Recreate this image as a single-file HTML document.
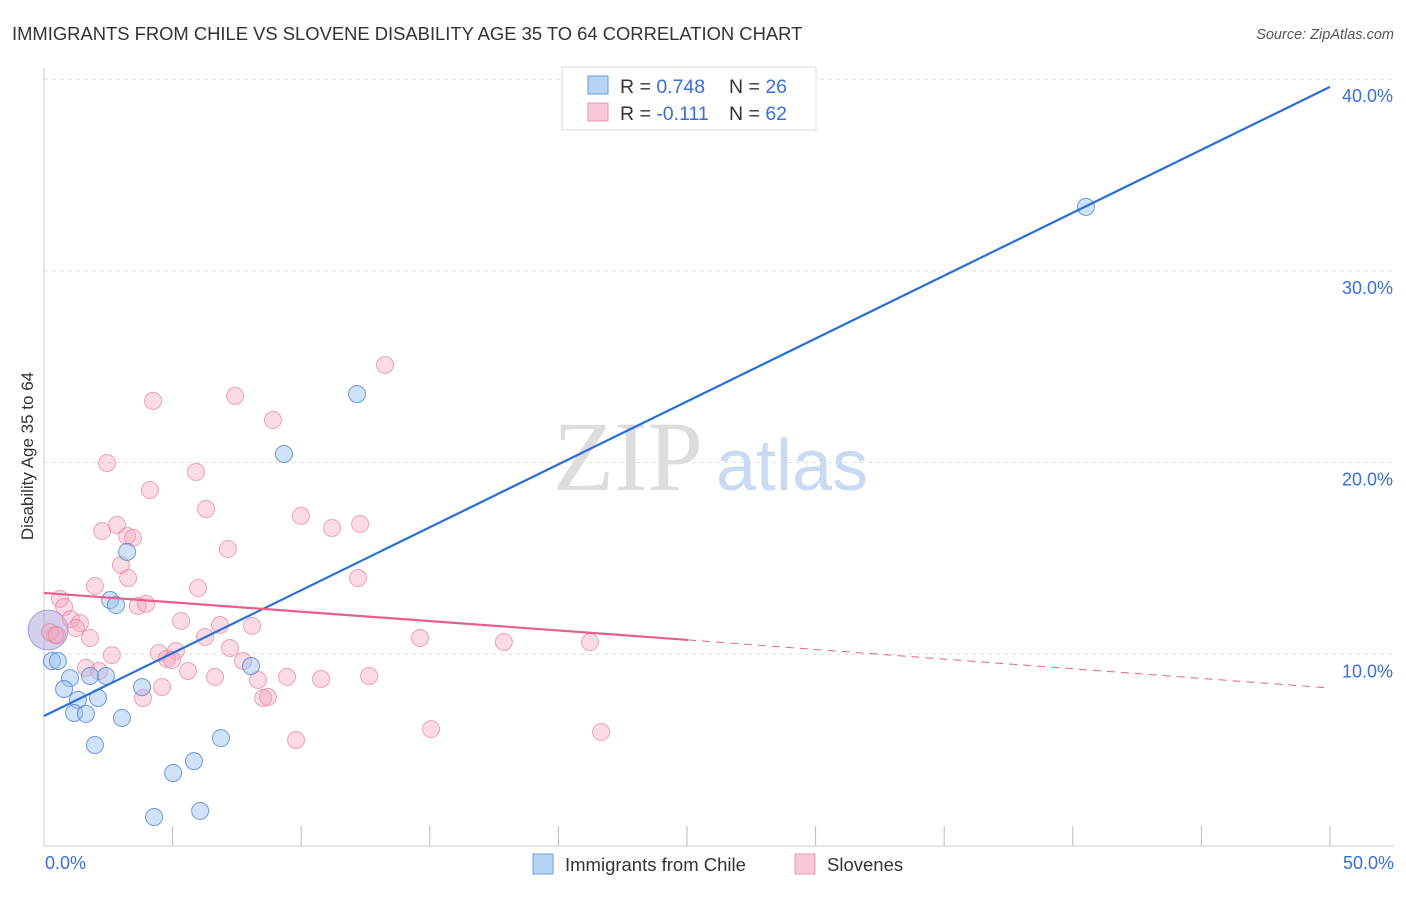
<!DOCTYPE html>
<html><head><meta charset="utf-8"><style>
body{margin:0;background:#fff;font-family:"Liberation Sans",sans-serif}
</style></head><body>
<svg width="1406" height="892" font-family="Liberation Sans, sans-serif" xmlns="http://www.w3.org/2000/svg">
<text x="12" y="40" font-size="18.4" fill="#333">IMMIGRANTS FROM CHILE VS SLOVENE DISABILITY AGE 35 TO 64 CORRELATION CHART</text>
<text x="1394" y="39" font-size="14.5" fill="#555" text-anchor="end" font-style="italic">Source: ZipAtlas.com</text>
<text x="553" y="490" font-size="100" fill="#ddd" style="font-family:'Liberation Serif',serif">ZIP</text>
<text x="716" y="490" font-size="72" fill="#c9daf2">atlas</text>
<g id="grid"></g>
<line x1="44" y1="68" x2="44" y2="846" stroke="#ccc"/>
<line x1="44" y1="846" x2="1394" y2="846" stroke="#ccc"/>
<text transform="translate(33,456) rotate(-90)" font-size="17" fill="#333" text-anchor="middle">Disability Age 35 to 64</text>
<text x="45" y="869" font-size="18" fill="#3a6fd8">0.0%</text>
<text x="1394" y="869" font-size="18" fill="#3a6fd8" text-anchor="end">50.0%</text>
<g id="pts"></g>
<g id="lines"></g>
<g>
<rect x="562" y="67" width="254" height="63" fill="#fff" stroke="#ddd"/>
<rect x="588" y="76" width="20" height="18" fill="#b8d4f5" stroke="#6a9ee0"/>
<rect x="588" y="103" width="20" height="18" fill="#f9c8d6" stroke="#e99ab2"/>
<text x="620" y="93" font-size="19.5" fill="#333">R = <tspan fill="#3a6fd8">0.748</tspan></text>
<text x="729" y="93" font-size="19.5" fill="#333">N = <tspan fill="#3a6fd8">26</tspan></text>
<text x="620" y="120" font-size="19.5" fill="#333">R = <tspan fill="#3a6fd8">-0.111</tspan></text>
<text x="729" y="120" font-size="19.5" fill="#333">N = <tspan fill="#3a6fd8">62</tspan></text>
</g>
<g>
<rect x="533" y="854" width="20" height="20" fill="#b8d4f5" stroke="#6a9ee0"/>
<text x="565" y="871" font-size="18.5" fill="#333">Immigrants from Chile</text>
<rect x="795" y="854" width="20" height="20" fill="#f9c8d6" stroke="#e99ab2"/>
<text x="827" y="871" font-size="18.5" fill="#333">Slovenes</text>
</g>
</svg>
<script>
const yTicks=[10,20,30,40];
const xTicks=[0,5,10,15,20,25,30,35,40,45,50];
const blueX=[40.51,12.17,9.33,3.23,2.57,2.80,0.31,0.54,1.01,0.78,1.79,2.41,1.32,2.10,1.17,1.63,3.03,3.81,8.05,6.88,5.83,5.02,1.98,6.07,4.28];
const blueY=[33.34,23.58,20.45,15.34,12.83,12.57,9.65,9.65,8.76,8.19,8.87,8.87,7.62,7.72,6.94,6.89,6.68,8.29,9.39,5.63,4.43,3.81,5.27,1.83,1.51];
const pinkX=[13.26,4.24,7.43,8.90,2.45,5.91,4.12,6.30,9.99,11.20,12.29,2.26,2.84,3.23,3.46,7.15,2.99,3.27,1.98,5.99,12.21,0.62,0.78,3.65,3.97,5.33,6.84,8.09,1.05,1.40,1.24,1.79,0.43,0.23,6.26,7.23,14.62,17.88,21.23,2.64,4.47,5.13,4.78,4.98,7.74,1.63,2.14,5.60,6.65,8.32,9.45,10.77,12.64,4.59,3.85,8.52,8.71,9.80,15.05,21.66,0.5];
const pinkY=[25.09,23.22,23.48,22.22,19.98,19.51,18.57,17.58,17.22,16.59,16.80,16.43,16.75,16.17,16.07,15.49,14.66,13.98,13.56,13.46,13.98,12.89,12.47,12.52,12.63,11.74,11.53,11.48,11.84,11.63,11.37,10.85,11.01,11.16,10.90,10.33,10.85,10.64,10.64,9.96,10.07,10.17,9.76,9.70,9.65,9.29,9.13,9.13,8.82,8.66,8.82,8.71,8.87,8.29,7.72,7.72,7.77,5.53,6.10,5.95,11.0];
const bigBlue=[0.16,11.27];
const blueTrend=[[0,6.78],[50,39.6]];
const pinkTrend=[[0,13.2],[25.04,10.75],[50,8.24]];
const X=v=>44+v/50*1286, Y=v=>846-v*19.17;
const NS="http://www.w3.org/2000/svg";
function mk(tag,attrs,parent){const e=document.createElementNS(NS,tag);for(const k in attrs)e.setAttribute(k,attrs[k]);document.getElementById(parent).appendChild(e);return e;}
yTicks.forEach(t=>{
 const l=mk('line',{x1:44,x2:1394,y1:Y(t),y2:Y(t),stroke:'#ddd','stroke-dasharray':'4,4'},'grid');
 
 
 const tx=mk('text',{x:1393,y:Y(t)+23,'font-size':18,fill:'#3a6fd8','text-anchor':'end'},'grid');tx.textContent=t.toFixed(1)+'%';
 
 
});
xTicks.forEach(t=>{
 const l=mk('line',{x1:X(t),x2:X(t),y1:826,y2:846,stroke:'#bbb'},'grid');
 
 
});
const bb=mk('circle',{cx:X(bigBlue[0]),cy:Y(bigBlue[1]),r:20,fill:'rgba(160,150,210,0.45)',stroke:'rgba(110,120,200,0.6)'},'pts');


pinkX.forEach((x,i)=>{const c=mk('circle',{cx:X(x),cy:Y(pinkY[i]),r:8.5,fill:'rgba(244,165,190,0.4)',stroke:'rgba(230,130,160,0.7)'},'pts');
 
 });
blueX.forEach((x,i)=>{const c=mk('circle',{cx:X(x),cy:Y(blueY[i]),r:8.5,fill:'rgba(150,190,240,0.45)',stroke:'rgba(80,130,210,0.8)'},'pts');
 
 });
const bl=mk('line',{x1:X(blueTrend[0][0]),y1:Y(blueTrend[0][1]),x2:X(blueTrend[1][0]),y2:Y(blueTrend[1][1]),stroke:'#2a6fd6','stroke-width':2.2},'lines');


const pl=mk('line',{x1:X(pinkTrend[0][0]),y1:Y(pinkTrend[0][1]),x2:X(pinkTrend[1][0]),y2:Y(pinkTrend[1][1]),stroke:'#e8608a','stroke-width':2.2},'lines');


const pd=mk('line',{x1:X(pinkTrend[1][0]),y1:Y(pinkTrend[1][1]),x2:X(pinkTrend[2][0]),y2:Y(pinkTrend[2][1]),stroke:'#e8608a','stroke-width':1,'stroke-dasharray':'8,6'},'lines');


</script>
</body></html>
